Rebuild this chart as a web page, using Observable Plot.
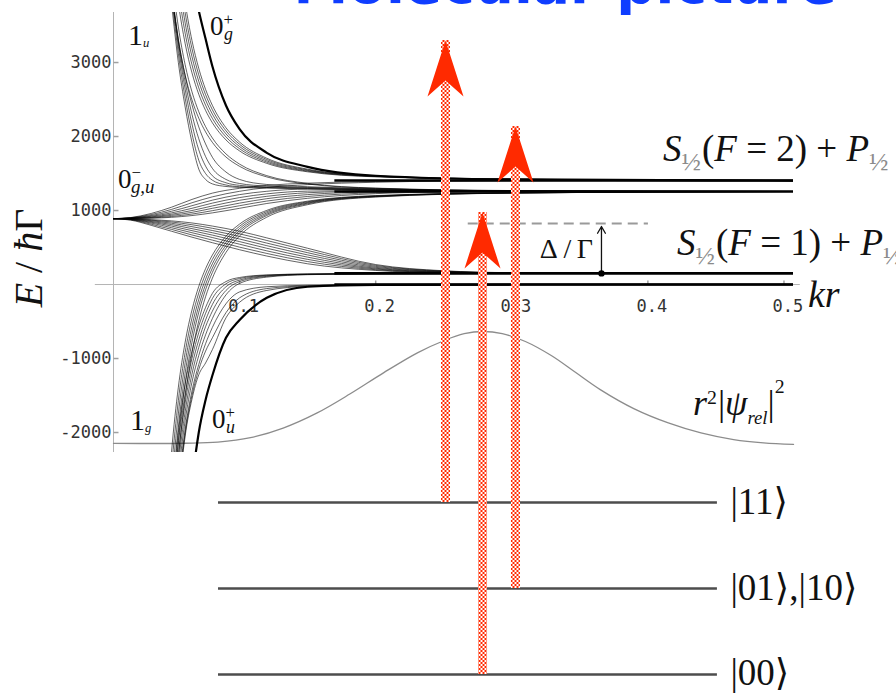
<!DOCTYPE html>
<html>
<head>
<meta charset="utf-8">
<script src="https://cdn.jsdelivr.net/npm/d3@7"></script>
<script src="https://cdn.jsdelivr.net/npm/@observablehq/plot@0.6"></script>
<style>
  body { margin: 0; background: #fff; }
  #chart svg { display: block; }
  g[aria-label="tick-label"] text { letter-spacing: 4px; }
</style>
</head>
<body>
<div id="chart"></div>
<script>
// ---- axes of the potential diagram (E in units of ħΓ versus kr) ----
const krRange = [0.00735, 0.507];
const energyRange = [-2270, 3676];
const yTicks = [-2000, -1000, 1000, 2000, 3000];
const xTicks = [0.1, 0.2, 0.3, 0.4, 0.5];

// dissociation limits: S1/2(F=2)+P1/2 pair and S1/2(F=1)+P1/2 pair
const asymptotes = [1405, 1257, 150, 0];

// kr sample points shared by the curves
const krSteep = [0.045, 0.05, 0.055, 0.06, 0.065, 0.07, 0.075, 0.08, 0.09, 0.10, 0.12, 0.15, 0.20, 0.30, 0.507];
const krFan = [0.00735, 0.02, 0.035, 0.05, 0.065, 0.08, 0.10, 0.12, 0.15, 0.20, 0.25, 0.30, 0.40, 0.507];

// repulsive curves falling onto the upper limits (E on krSteep)
const repulsiveUpper = [
  [4700, 3800, 3000, 2400, 1920, 1560, 1420, 1360, 1325, 1312, 1303, 1292, 1275, 1260, 1257],
  [4800, 3900, 3120, 2520, 2040, 1680, 1500, 1410, 1345, 1322, 1310, 1298, 1280, 1262, 1257],
  [4900, 3980, 3220, 2640, 2170, 1820, 1600, 1470, 1375, 1340, 1318, 1305, 1285, 1263, 1257],
  [4950, 4000, 3280, 2740, 2300, 1970, 1730, 1570, 1420, 1365, 1330, 1312, 1290, 1265, 1257],
  [5000, 4020, 3320, 2820, 2430, 2130, 1900, 1720, 1520, 1420, 1352, 1322, 1295, 1266, 1257],
  [4988, 3977, 3301, 2831, 2495, 2248, 2063, 1921, 1723, 1597, 1454, 1358, 1300, 1268, 1257],
  [5317, 4217, 3481, 2970, 2604, 2336, 2134, 1980, 1765, 1627, 1471, 1367, 1303, 1270, 1257],
  [5795, 4605, 3809, 3257, 2861, 2571, 2353, 2186, 1954, 1805, 1637, 1523, 1455, 1420, 1405],
  [6124, 4845, 3990, 3396, 2971, 2658, 2424, 2245, 1995, 1835, 1654, 1532, 1459, 1421, 1405],
  [6453, 5085, 4170, 3535, 3080, 2746, 2495, 2303, 2036, 1865, 1671, 1541, 1463, 1422, 1405],
  [6782, 5325, 4350, 3674, 3189, 2833, 2566, 2362, 2077, 1895, 1689, 1550, 1466, 1423, 1405],
  [7111, 5565, 4531, 3813, 3298, 2921, 2637, 2421, 2118, 1925, 1706, 1559, 1470, 1424, 1405]
];
// 0g+ curve (E on krSteep)
const curve0gPlus = [8000, 6500, 5400, 4700, 4150, 3700, 3320, 2950, 2420, 2100, 1780, 1590, 1470, 1420, 1405];

// 0-_{g,u} fan leaving ~890 at short range (E on krFan)
const fanUp = [
  [890, 905, 960, 1045, 1150, 1235, 1300, 1340, 1370, 1392, 1401, 1405, 1405, 1405],
  [890, 902, 945, 1015, 1105, 1185, 1260, 1310, 1350, 1382, 1398, 1404, 1405, 1405],
  [890, 900, 932, 990, 1065, 1140, 1215, 1260, 1290, 1278, 1264, 1258, 1257, 1257],
  [890, 898, 922, 968, 1030, 1100, 1175, 1225, 1262, 1270, 1262, 1258, 1257, 1257],
  [890, 896, 913, 950, 1000, 1062, 1138, 1192, 1240, 1262, 1260, 1258, 1257, 1257],
  [890, 894, 906, 935, 975, 1030, 1100, 1160, 1215, 1252, 1258, 1257, 1257, 1257],
  [890, 893, 900, 920, 952, 998, 1065, 1128, 1190, 1240, 1254, 1257, 1257, 1257],
  [890, 892, 896, 908, 932, 968, 1030, 1095, 1165, 1228, 1250, 1256, 1257, 1257]
];
const fanDown = [
  [890, 870, 800, 720, 640, 565, 470, 385, 280, 190, 160, 152, 150, 150],
  [890, 875, 815, 745, 670, 600, 505, 420, 310, 200, 163, 153, 150, 150],
  [890, 878, 830, 768, 700, 635, 545, 455, 340, 210, 167, 154, 150, 150],
  [890, 880, 842, 790, 728, 668, 580, 490, 370, 220, 170, 155, 150, 150],
  [890, 883, 852, 810, 755, 700, 615, 525, 400, 232, 174, 156, 150, 150],
  [890, 885, 862, 828, 782, 730, 650, 560, 430, 245, 178, 157, 150, 150],
  [890, 887, 870, 845, 808, 760, 685, 595, 460, 258, 182, 158, 150, 150],
  [890, 888, 877, 860, 832, 790, 720, 630, 490, 270, 186, 160, 150, 150]
];

// attractive curves rising to the upper limit (E on krSteep)
const attractiveToUpper = [
  [-3572, -2263, -1388, -780, -345, -26, 214, 398, 653, 817, 1002, 1127, 1202, 1241, 1257],
  [-3901, -2503, -1568, -919, -454, -113, 143, 339, 612, 787, 985, 1118, 1198, 1240, 1257],
  [-4230, -2743, -1749, -1058, -564, -201, 72, 280, 571, 757, 967, 1109, 1194, 1238, 1257],
  [-4559, -2983, -1929, -1197, -673, -288, 1, 222, 530, 727, 950, 1100, 1191, 1237, 1257],
  [-4888, -3223, -2109, -1336, -782, -375, -70, 163, 489, 697, 933, 1091, 1187, 1236, 1257],
  [-5327, -3543, -2350, -1521, -928, -492, -165, 85, 434, 657, 910, 1079, 1182, 1235, 1257]
];
// attractive curves bending onto the lower limits (E on krSteep)
const attractiveToLower = [
  [-4500, -3000, -2000, -1350, -900, -560, -310, -120, 40, 95, 130, 143, 148, 150, 150],
  [-4700, -3200, -2150, -1480, -1000, -650, -390, -190, 10, 80, 125, 141, 147, 150, 150],
  [-4900, -3400, -2300, -1600, -1100, -750, -480, -270, -30, 60, 118, 139, 147, 150, 150],
  [-5100, -3600, -2450, -1720, -1210, -850, -570, -360, -80, 40, 110, 136, 146, 150, 150],
  [-5300, -3800, -2600, -1840, -1320, -960, -680, -460, -140, 15, 100, 133, 145, 150, 150],
  [-5500, -4000, -2750, -1960, -1440, -1080, -800, -580, -260, -100, -30, -10, -3, 0, 0],
  [-5750, -4150, -2830, -2010, -1500, -1150, -900, -720, -380, -180, -55, -18, -5, 0, 0],
  [-6000, -4300, -2900, -2050, -1550, -1220, -1060, -880, -450, -240, -80, -25, -7, 0, 0]
];
// 0u+ curve (E on krSteep)
const curve0uPlus = [-9000, -6500, -4900, -3700, -2700, -2000, -1560, -1230, -720, -480, -180, -30, -5, 0, 0];

// relative wavefunction r²|ψrel|², drawn on the energy axis
const psiKr = [0.00735, 0.06, 0.084, 0.108, 0.132, 0.157, 0.181, 0.206, 0.231, 0.250, 0.265, 0.279, 0.293, 0.310, 0.329, 0.347, 0.365, 0.390, 0.415, 0.439, 0.463, 0.485, 0.507];
const psiE = [-2148, -2145, -2130, -2070, -1940, -1735, -1480, -1190, -920, -760, -665, -635, -665, -770, -960, -1190, -1420, -1680, -1870, -2005, -2095, -2140, -2160];

// detuning of the laser below the F=1 limit, and where it is drawn
const detuning = 675;
const detuningSpan = [0.268, 0.4004];
const detuningKr = 0.3659;

// two-atom internal states and the laser transitions from them
const stateNames = ["|11⟩", "|01⟩,|10⟩", "|00⟩"];
const stateLevels = [-2946, -4108, -5270];
const levelSpan = [0.0845, 0.4511];
const transitionFrom = ["|11⟩", "|01⟩,|10⟩", "|00⟩"];
const transitionKr = [0.2513, 0.3027, 0.2785];
const photonEnergy = 6243;

// ---- tables built from the arrays above ----
function toPoints(grid, curves, group) {
  return curves.flatMap((E, i) => E.map((e, j) => ({kr: grid[j], E: e, id: group + i})));
}
const thinCurves = [
  ...toPoints(krSteep, repulsiveUpper, "U"),
  ...toPoints(krFan, fanUp, "P"),
  ...toPoints(krFan, fanDown, "D"),
  ...toPoints(krSteep, attractiveToUpper, "A"),
  ...toPoints(krSteep, attractiveToLower, "L")
];
const boldCurves = toPoints(krSteep, [curve0gPlus, curve0uPlus], "B");
const psi = psiKr.map((kr, i) => ({kr, E: psiE[i]}));
const states = stateNames.map((name, i) => ({name, level: stateLevels[i]}));
const transitions = transitionFrom.map((from, i) => {
  const level = stateLevels[stateNames.indexOf(from)];
  return {from, kr: transitionKr[i], level, tip: level + photonEnergy};
});

// ---- drawing helpers ----
const SERIF = "'Liberation Serif', 'DejaVu Serif', serif";
const MONO = "'DejaVu Sans Mono', monospace";
const RED = "#ff2a00";
const NS = "http://www.w3.org/2000/svg";
function svgEl(tag, attrs = {}) {
  const e = document.createElementNS(NS, tag);
  for (const [k, v] of Object.entries(attrs)) e.setAttribute(k, v);
  return e;
}
const tickRight = {draw(ctx) { ctx.moveTo(0, 0); ctx.lineTo(5, 0); }};
const tickUp = {draw(ctx) { ctx.moveTo(0, 0); ctx.lineTo(0, -4); }};
const arrowHead = {draw(ctx) { ctx.moveTo(0, 0); ctx.lineTo(18, 56); ctx.lineTo(0, 40); ctx.lineTo(-18, 56); ctx.closePath(); }};

// text with italic parts, sub- and superscripts
function richText(x, y, {size, parts, anchor = "start", rotate = 0}) {
  const t = svgEl("text", {x, y, "font-size": size, "text-anchor": anchor});
  if (rotate) t.setAttribute("transform", `rotate(${rotate} ${x} ${y})`);
  let shift = 0;
  for (const p of parts) {
    const off = (p.off ?? 0) * size;
    const ts = svgEl("tspan", {dy: off - shift});
    shift = off;
    if (p.scale) ts.setAttribute("font-size", size * p.scale);
    if (p.i) ts.setAttribute("font-style", "italic");
    if (p.dx) ts.setAttribute("dx", p.dx);
    if (p.fill) ts.setAttribute("fill", p.fill);
    ts.textContent = p.t;
    t.appendChild(ts);
  }
  return t;
}
const half = {t: "½", off: 0.24, scale: 0.7, fill: "#8a8a8a"};
const richLabels = [
  {kr: 0.4115, E: asymptotes[0], dy: -19, size: 37, parts: [{t: "S", i: true}, half, {t: "(", dx: 1}, {t: "F", i: true}, {t: " = 2) + "}, {t: "P", i: true}, half]},
  {kr: 0.4218, E: asymptotes[2], dy: -18, size: 37, parts: [{t: "S", i: true}, half, {t: "(", dx: 1}, {t: "F", i: true}, {t: " = 1) + "}, {t: "P", i: true}, half]},
  {kr: krRange[1], E: 0, dx: 15, dy: 23, size: 38, parts: [{t: "kr", i: true}]},
  {kr: 0.321, E: 352, size: 28, parts: [{t: "Δ\u2009/\u2009Γ"}]},
  {kr: 0.0184, E: 3230, size: 30, parts: [{t: "1"}, {t: "u", i: true, off: 0.05, scale: 0.42}]},
  {kr: 0.0786, E: 3365, size: 27, parts: [{t: "0"}, {t: "+", off: -0.36, scale: 0.62}, {t: "g", i: true, off: 0.2, scale: 0.66, dx: -9}]},
  {kr: 0.0110, E: 1298, size: 27, parts: [{t: "0"}, {t: "−", off: -0.36, scale: 0.62}, {t: "g,u", i: true, off: 0.2, scale: 0.7, dx: -10}]},
  {kr: 0.0198, E: -1973, size: 30, parts: [{t: "1"}, {t: "g", i: true, off: 0.05, scale: 0.42}]},
  {kr: 0.0801, E: -1946, size: 27, parts: [{t: "0"}, {t: "+", off: -0.36, scale: 0.62}, {t: "u", i: true, off: 0.2, scale: 0.66, dx: -9}]},
  {kr: 0.4335, E: -1770, size: 36, parts: [{t: "r", i: true}, {t: "2", off: -0.3, scale: 0.55}, {t: "|", off: 0, dx: 1}, {t: "ψ", i: true}, {t: "rel", i: true, off: 0.25, scale: 0.52}, {t: "|", off: 0}, {t: "2", off: -0.6, scale: 0.55}]},
  {kr: -0.0448, E: 352, size: 40, anchor: "middle", rotate: -90, parts: [{t: "E", i: true}, {t: " / "}, {t: "ħ", i: true}, {t: "Γ"}]}
];

const chart = Plot.plot({
  width: 896,
  height: 693,
  marginLeft: 113,
  marginRight: 103,
  marginTop: 12,
  marginBottom: 241,
  x: {domain: krRange, axis: null},
  y: {domain: energyRange, axis: null},
  marks: [
    // checker pattern for the laser beams
    () => {
      const defs = svgEl("defs");
      const pat = svgEl("pattern", {id: "checker", width: 4, height: 4, patternUnits: "userSpaceOnUse"});
      pat.appendChild(svgEl("rect", {width: 4, height: 4, fill: RED}));
      pat.appendChild(svgEl("rect", {width: 2, height: 2, fill: "#fff"}));
      pat.appendChild(svgEl("rect", {x: 2, y: 2, width: 2, height: 2, fill: "#fff"}));
      defs.appendChild(pat);
      return defs;
    },
    // heading
    Plot.text(["Molecular picture"], {frameAnchor: "top-left", dx: 180, dy: -10, lineAnchor: "bottom", textAnchor: "start",
      fontFamily: "'DejaVu Sans', sans-serif", fontWeight: "bold", fontSize: 55, fill: "#0f3dff"}),
    // axes
    Plot.ruleX([krRange[0]], {stroke: "#b4b4b4", strokeWidth: 1}),
    Plot.ruleY([0], {x1: -0.006, x2: 0.512, stroke: "#b4b4b4", strokeWidth: 1}),
    Plot.dot(yTicks, {x: krRange[0], y: d => d, symbol: tickRight, stroke: "#a0a0a0", fill: "none"}),
    Plot.dot(xTicks, {x: d => d, y: 0, symbol: tickUp, stroke: "#a0a0a0", fill: "none"}),
    Plot.text(yTicks, {x: krRange[0], y: d => d, text: d => (d < 0 ? "-" : "") + Math.abs(d), textAnchor: "end", lineAnchor: "middle",
      dx: -2, fontFamily: MONO, fontSize: 17, fill: "#333", ariaLabel: "tick-label"}),
    Plot.text(xTicks, {x: d => d, y: 0, text: d => d.toFixed(1), textAnchor: "middle", lineAnchor: "middle",
      dx: 4, dy: 22, fontFamily: MONO, fontSize: 17, fill: "#333", ariaLabel: "tick-label"}),
    // pair wavefunction
    Plot.line(psi, {x: "kr", y: "E", curve: "catmull-rom", stroke: "#8c8c8c", strokeWidth: 1.3}),
    // molecular potentials
    Plot.line(thinCurves, {x: "kr", y: "E", z: "id", curve: "monotone-x", stroke: "#000", strokeOpacity: 0.72, strokeWidth: 0.85, clip: true}),
    Plot.ruleY(asymptotes, {x1: 0.17, x2: krRange[1], stroke: "#000", strokeWidth: 2.6}),
    Plot.line(boldCurves, {x: "kr", y: "E", z: "id", curve: "monotone-x", stroke: "#000", strokeWidth: 2.2, clip: true}),
    // detuning marker
    Plot.ruleY([asymptotes[2] + detuning], {x1: detuningSpan[0], x2: detuningSpan[1], stroke: "#9a9a9a", strokeWidth: 2, strokeDasharray: "10,6"}),
    Plot.arrow([detuning], {x1: detuningKr, x2: detuningKr, y1: asymptotes[2], y2: d => asymptotes[2] + d, insetEnd: 3,
      headLength: 9, stroke: "#111", strokeWidth: 1.3}),
    Plot.dot([detuning], {x: detuningKr, y: asymptotes[2], r: 3.2, fill: "#000"}),
    // internal states
    Plot.ruleY(states, {y: "level", x1: levelSpan[0], x2: levelSpan[1], stroke: "#4d4d4d", strokeWidth: 2.5}),
    Plot.text(states, {x: levelSpan[1], y: "level", text: "name", dx: 13, dy: 11, textAnchor: "start", lineAnchor: "bottom",
      fontFamily: SERIF, fontSize: 37, fill: "#111"}),
    // laser transitions
    Plot.ruleX(transitions, {x: "kr", y1: "level", y2: "tip", stroke: "url(#checker)", strokeWidth: 9}),
    Plot.dot(transitions, {x: "kr", y: "tip", symbol: arrowHead, fill: RED, stroke: "none"}),
    // math labels
    (index, scales) => {
      const g = svgEl("g", {"font-family": SERIF, fill: "#111"});
      for (const L of richLabels) {
        g.appendChild(richText(scales.x(L.kr) + (L.dx ?? 0), scales.y(L.E) + (L.dy ?? 0), L));
      }
      return g;
    }
  ]
});
document.getElementById("chart").appendChild(chart);
</script>
</body>
</html>
